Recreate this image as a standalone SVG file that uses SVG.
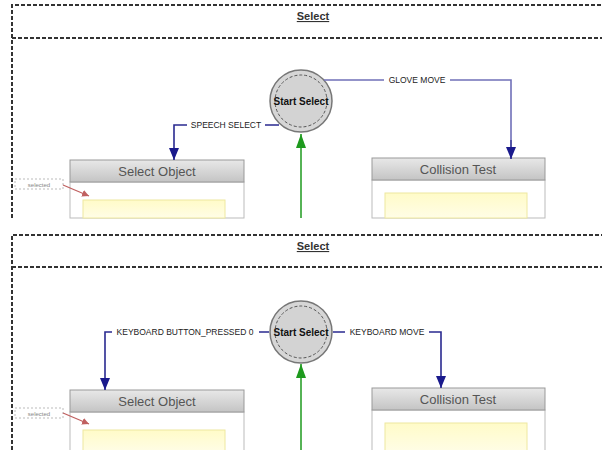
<svg xmlns="http://www.w3.org/2000/svg" width="602" height="450" viewBox="0 0 602 450">
<defs>
<linearGradient id="hdr" x1="0" y1="0" x2="0" y2="1">
<stop offset="0" stop-color="#e8e8e8"/><stop offset="1" stop-color="#c4c4c4"/>
</linearGradient>
<linearGradient id="yel" x1="0" y1="0" x2="0" y2="1">
<stop offset="0" stop-color="#fffbc8"/><stop offset="1" stop-color="#fffde6"/>
</linearGradient>
<marker id="ab" markerWidth="12" markerHeight="10" refX="12" refY="5" orient="auto" markerUnits="userSpaceOnUse" viewBox="0 0 12 10">
<path d="M0,0 L12,5 L0,10 Z" fill="#1a1a8c"/>
</marker>
<marker id="ag" markerWidth="14" markerHeight="10" refX="14" refY="5" orient="auto" markerUnits="userSpaceOnUse" viewBox="0 0 14 10">
<path d="M0,0 L14,5 L0,10 Z" fill="#1e9a1e"/>
</marker>
<marker id="ar" markerWidth="7" markerHeight="7" refX="7" refY="3.5" orient="auto" markerUnits="userSpaceOnUse" viewBox="0 0 7 7">
<path d="M0,0 L7,3.5 L0,7 Z" fill="#c06060"/>
</marker>
</defs>
<style>
.frame{fill:none;stroke:#333;stroke-width:2;stroke-dasharray:4 2}
.title{font-family:"Liberation Sans",Arial,sans-serif;font-size:11px;font-weight:bold;fill:#333;text-decoration:underline}
.circ-o{fill:#d6d6d6;stroke:#777;stroke-width:1.5}
.circ-i{fill:#d3d3d3;stroke:#555;stroke-width:1;stroke-dasharray:3 2}
.ctext{font-family:"Liberation Sans",Arial,sans-serif;font-size:10px;font-weight:bold;fill:#111}
.lbl{font-family:"Liberation Sans",Arial,sans-serif;font-size:8.5px;fill:#222}
.edge{fill:none;stroke:#2a2a90;stroke-width:1.6}
.edge2{fill:none;stroke:#7070b8;stroke-width:1.6}
.green{fill:none;stroke:#1e9a1e;stroke-width:1.5}
.hdr{fill:url(#hdr);stroke:#999;stroke-width:1}
.body{fill:#fff;stroke:#bbb;stroke-width:1}
.htext{font-family:"Liberation Sans",Arial,sans-serif;font-size:13px;fill:#555}
.yel{fill:url(#yel);stroke:#eee8a0;stroke-width:1}
.sel{font-family:"Liberation Sans",Arial,sans-serif;font-size:6px;fill:#888}
.selbox{fill:none;stroke:#aaa;stroke-width:0.8;stroke-dasharray:2 2}
.red{stroke:#c06060;stroke-width:1.3}
</style>

<g id="panel1">
<path class="frame" d="M12,218 V5 H602"/>
<line class="frame" x1="12" y1="38" x2="602" y2="38"/>
<text class="title" x="313" y="20" text-anchor="middle">Select</text>
</g>

<g id="panel2">
<path class="frame" d="M12,450 V235 H602"/>
<line class="frame" x1="12" y1="267" x2="602" y2="267"/>
<text class="title" x="313" y="250" text-anchor="middle">Select</text>
</g>

<g id="start-select-1">
<circle class="circ-o" cx="301" cy="101" r="31"/>
<circle class="circ-i" cx="301" cy="101" r="26"/>
<text class="ctext" x="301" y="104.5" text-anchor="middle">Start Select</text>
</g>

<g id="start-select-2">
<circle class="circ-o" cx="301" cy="332" r="31"/>
<circle class="circ-i" cx="301" cy="332" r="26"/>
<text class="ctext" x="301" y="335.5" text-anchor="middle">Start Select</text>
</g>

<g id="select-object-1">
<rect class="body" x="70" y="182" width="174" height="36"/>
<rect class="hdr" x="70" y="160" width="174" height="22"/>
<text class="htext" x="157" y="176" text-anchor="middle">Select Object</text>
<rect class="yel" x="83" y="200" width="142" height="18"/>
</g>

<g id="collision-test-1">
<rect class="body" x="372" y="180" width="173" height="38"/>
<rect class="hdr" x="372" y="158" width="173" height="22"/>
<text class="htext" x="458" y="174" text-anchor="middle">Collision Test</text>
<rect class="yel" x="385" y="193" width="142" height="25"/>
</g>

<g id="select-object-2">
<rect class="body" x="70" y="412" width="174" height="40"/>
<rect class="hdr" x="70" y="390" width="174" height="22"/>
<text class="htext" x="157" y="406" text-anchor="middle">Select Object</text>
<rect class="yel" x="83" y="430" width="142" height="22"/>
</g>

<g id="collision-test-2">
<rect class="body" x="372" y="410" width="173" height="42"/>
<rect class="hdr" x="372" y="388" width="173" height="22"/>
<text class="htext" x="458" y="404" text-anchor="middle">Collision Test</text>
<rect class="yel" x="385" y="423" width="142" height="29"/>
</g>

<g id="selected-1">
<rect class="selbox" x="15" y="179" width="48" height="10"/>
<text class="sel" x="39" y="186.5" text-anchor="middle">selected</text>
</g>
<g id="selected-2">
<rect class="selbox" x="15" y="408" width="48" height="10"/>
<text class="sel" x="39" y="415.5" text-anchor="middle">selected</text>
</g>

<g id="connectors">
<path class="edge2" d="M324,80 H511 V140"/>
<path class="edge" d="M511,140 V159" marker-end="url(#ab)"/>
<rect x="384" y="75" width="66" height="10" fill="#fff"/>
<text class="lbl" x="417" y="83" text-anchor="middle">GLOVE MOVE</text>

<path class="edge" d="M279,125 H174 V160" marker-end="url(#ab)"/>
<rect x="187" y="120" width="78" height="10" fill="#fff"/>
<text class="lbl" x="226" y="128" text-anchor="middle">SPEECH SELECT</text>

<path class="green" d="M301,218 V134" marker-end="url(#ag)"/>

<path class="edge" d="M269,332 H105 V390" marker-end="url(#ab)"/>
<rect x="112" y="327" width="147" height="10" fill="#fff"/>
<text class="lbl" x="185" y="335" text-anchor="middle">KEYBOARD BUTTON_PRESSED 0</text>

<path class="edge" d="M333,332 H441 V388" marker-end="url(#ab)"/>
<rect x="345" y="327" width="84" height="10" fill="#fff"/>
<text class="lbl" x="387" y="335" text-anchor="middle">KEYBOARD MOVE</text>

<path class="green" d="M301,450 V364" marker-end="url(#ag)"/>

<line class="red" x1="63" y1="185" x2="89" y2="196" marker-end="url(#ar)"/>
<line class="red" x1="63" y1="413" x2="89" y2="424" marker-end="url(#ar)"/>
</g>
</svg>
